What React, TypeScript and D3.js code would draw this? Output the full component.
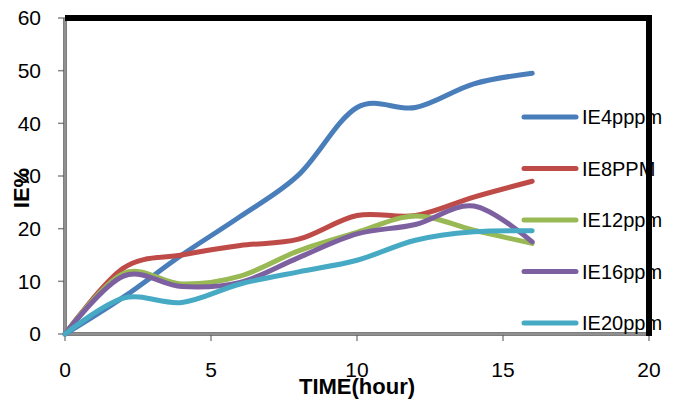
import React, { useEffect, useRef } from 'react';
import * as d3 from 'd3';

const hours = [0, 2, 4, 6, 8, 10, 12, 14, 16];
const ie4 = [0, 7, 15, 22.3, 30.2, 43, 43, 47.5, 49.5];
const ie8 = [0, 12.5, 15, 16.8, 18, 22.5, 22.5, 26, 29];
const ie12 = [0, 11.5, 9.5, 11, 15.8, 19.3, 22.4, 19.7, 17.2];
const ie16 = [0, 11, 9, 9.8, 14.5, 19, 20.8, 24.3, 17.5];
const ie20 = [0, 6.8, 6, 9.5, 11.8, 14, 17.8, 19.4, 19.6];
const seriesNames = ['IE4pppm', 'IE8PPM', 'IE12ppm', 'IE16ppm', 'IE20ppm'];
const colors = ['#4A7EBB', '#BE4B48', '#98B954', '#7D60A0', '#46AAC5'];
const xTicks = [0, 5, 10, 15, 20];
const yTicks = [0, 10, 20, 30, 40, 50, 60];

export default function App() {
  const ref = useRef<SVGSVGElement>(null);

  useEffect(() => {
    const svg = d3.select(ref.current);
    svg.selectAll('*').remove();
    const font = 'Liberation Sans, Arial, sans-serif';

    const x = d3.scaleLinear().domain([0, 20]).range([65, 649]);
    const y = d3.scaleLinear().domain([0, 60]).range([334, 18]);

    // ticks
    const g = svg.append('g');
    yTicks.forEach(t => {
      g.append('line')
        .attr('x1', x(0) - 7).attr('x2', x(0))
        .attr('y1', y(t)).attr('y2', y(t))
        .attr('stroke', '#888').attr('stroke-width', 1.5);
      g.append('text')
        .attr('x', 41).attr('y', y(t)).attr('dy', '0.35em')
        .attr('text-anchor', 'end')
        .attr('font-family', font).attr('font-size', 21)
        .text(t);
    });
    xTicks.forEach(t => {
      g.append('line')
        .attr('x1', x(t)).attr('x2', x(t))
        .attr('y1', y(0)).attr('y2', y(0) + 7)
        .attr('stroke', '#888').attr('stroke-width', 1.5);
      g.append('text')
        .attr('x', x(t)).attr('y', 377)
        .attr('text-anchor', 'middle')
        .attr('font-family', font).attr('font-size', 21)
        .text(t);
    });

    // axes (left / bottom)
    const axisStyle = (sel: any) =>
      sel.attr('stroke', '#555').attr('stroke-width', 3.5);
    axisStyle(svg.append('line').attr('x1', x(0)).attr('x2', x(0)).attr('y1', y(60)).attr('y2', y(0) + 2));
    axisStyle(svg.append('line').attr('x1', x(0)).attr('x2', x(20)).attr('y1', y(0)).attr('y2', y(0)));
    svg.append('line').attr('x1', x(0)).attr('x2', x(0)).attr('y1', y(60)).attr('y2', y(0))
      .attr('stroke', '#ccc').attr('stroke-width', 1);
    svg.append('line').attr('x1', x(0)).attr('x2', x(20)).attr('y1', y(0)).attr('y2', y(0))
      .attr('stroke', '#ccc').attr('stroke-width', 1);

    // series
    const all = [ie4, ie8, ie12, ie16, ie20];
    const lineGen = d3.line<number>()
      .x((_, i) => x(hours[i]))
      .y(d => y(d))
      .curve(d3.curveCardinal.tension(0));
    all.forEach((s, i) => {
      svg.append('path')
        .attr('d', lineGen(s))
        .attr('fill', 'none')
        .attr('stroke', colors[i])
        .attr('stroke-width', 5)
        .attr('stroke-linecap', 'round')
        .attr('stroke-linejoin', 'round');
    });

    // legend
    const legendY = d3.scalePoint<string>().domain(seriesNames).range([117, 323]);
    seriesNames.forEach((n, i) => {
      svg.append('line')
        .attr('x1', 524).attr('x2', 576)
        .attr('y1', legendY(n)!).attr('y2', legendY(n)!)
        .attr('stroke', colors[i]).attr('stroke-width', 5)
        .attr('stroke-linecap', 'round');
      svg.append('text')
        .attr('x', 582).attr('y', legendY(n)!).attr('dy', '0.35em')
        .attr('font-family', font).attr('font-size', 20)
        .text(n);
    });

    // thick frame top / right
    svg.append('path')
      .attr('d', `M${x(0)},${y(60)}H${x(20)}V${y(0) + 2}`)
      .attr('fill', 'none').attr('stroke', '#000').attr('stroke-width', 6);

    // titles
    svg.append('text')
      .attr('x', 357).attr('y', 394)
      .attr('text-anchor', 'middle')
      .attr('font-family', font).attr('font-size', 22).attr('font-weight', 'bold')
      .text('TIME(hour)');
    svg.append('text')
      .attr('transform', 'translate(29,188) rotate(-90)')
      .attr('text-anchor', 'middle')
      .attr('font-family', font).attr('font-size', 22).attr('font-weight', 'bold')
      .text('IE%');
  }, []);

  return (
    <svg
      ref={ref}
      width={684}
      height={408}
      style={{ position: 'absolute', left: 0, top: 0, background: '#fff' }}
    />
  );
}
